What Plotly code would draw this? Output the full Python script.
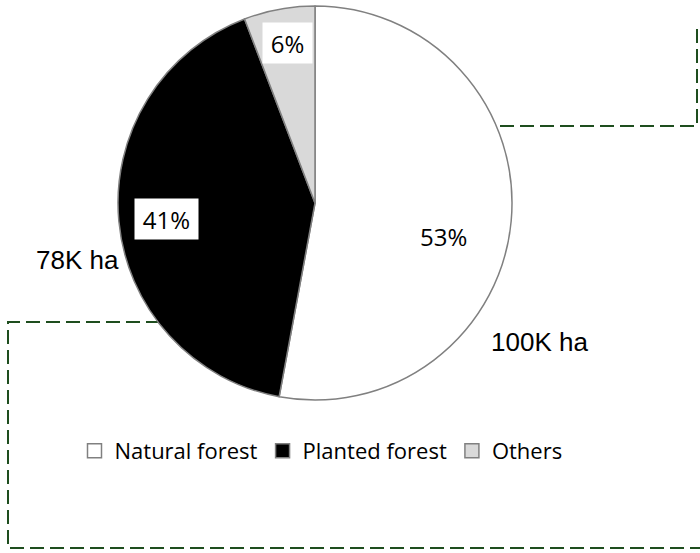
import plotly.graph_objects as go

# data
categories = ["Natural forest", "Planted forest", "Others"]
area_kha = [100, 78, 11]
pct_labels = ["53%", "41%", "6%"]
area_labels = ["100K ha", "78K ha"]
colors = ["#ffffff", "#000000", "#d9d9d9"]

W, H = 700, 553


def px(x):
    return x / W


def py(y):
    return 1 - y / H


CAL = "'Open Sans', Lato, sans-serif"
ARI = "'Liberation Sans', Arial, sans-serif"

fig = go.Figure()

fig.add_trace(go.Pie(
    labels=categories,
    values=area_kha,
    sort=False,
    direction="clockwise",
    rotation=0,
    textinfo="none",
    hoverinfo="label+value+percent",
    showlegend=False,
    marker=dict(colors=colors, line=dict(color="#808080", width=1.5)),
    domain=dict(x=[px(118), px(512)], y=[py(400), py(6)]),
))

# legend entries with bigger square swatches
for name, c in zip(categories, colors):
    fig.add_trace(go.Scatter(
        x=[None], y=[None], mode="markers", name=name,
        marker=dict(symbol="square", size=14, color=c,
                    line=dict(color="#808080", width=1.5)),
        hoverinfo="skip",
    ))

# dashed green outlines behind the pie
green = "#1e4d1e"
dash = "14px,6px"
fig.add_shape(type="path", xref="paper", yref="paper", layer="below",
              path=f"M {px(300)},{py(126)} L {px(697)},{py(126)} L {px(697)},{py(28)}",
              line=dict(color=green, width=2, dash=dash))
fig.add_shape(type="path", xref="paper", yref="paper", layer="below",
              path=(f"M {px(300)},{py(322)} L {px(8)},{py(322)} L {px(8)},{py(548)} "
                    f"L {px(705)},{py(548)}"),
              line=dict(color=green, width=2, dash=dash))


def label(x, y, text, font, size, **kw):
    fig.add_annotation(x=px(x), y=py(y), xref="paper", yref="paper",
                       xanchor="center", yanchor="middle",
                       text=text, showarrow=False,
                       font=dict(family=font, size=size, color="black"), **kw)


# percentage labels
label(443, 236, pct_labels[0], CAL, 24)
label(166, 219, pct_labels[1], CAL, 24, bgcolor="white", borderpad=0, width=63, height=40)
label(287, 43, pct_labels[2], CAL, 24, bgcolor="white", borderpad=0, width=49, height=40)

# area labels
label(539, 342, area_labels[0], ARI, 26)
label(77, 260, area_labels[1], ARI, 26)

fig.update_layout(
    width=W, height=H,
    margin=dict(l=0, r=0, t=0, b=0),
    paper_bgcolor="white",
    plot_bgcolor="rgba(0,0,0,0)",
    xaxis=dict(visible=False, range=[0, 1], fixedrange=True),
    yaxis=dict(visible=False, range=[0, 1], fixedrange=True),
    showlegend=True,
    legend=dict(
        orientation="h",
        x=px(321), xanchor="center",
        y=py(451), yanchor="middle",
        font=dict(family=CAL, size=22, color="black"),
        itemwidth=30,
        bgcolor="rgba(0,0,0,0)",
    ),
)

fig.write_html("out.html", config={"displayModeBar": False},
               post_script="document.body.style.margin='0';")
